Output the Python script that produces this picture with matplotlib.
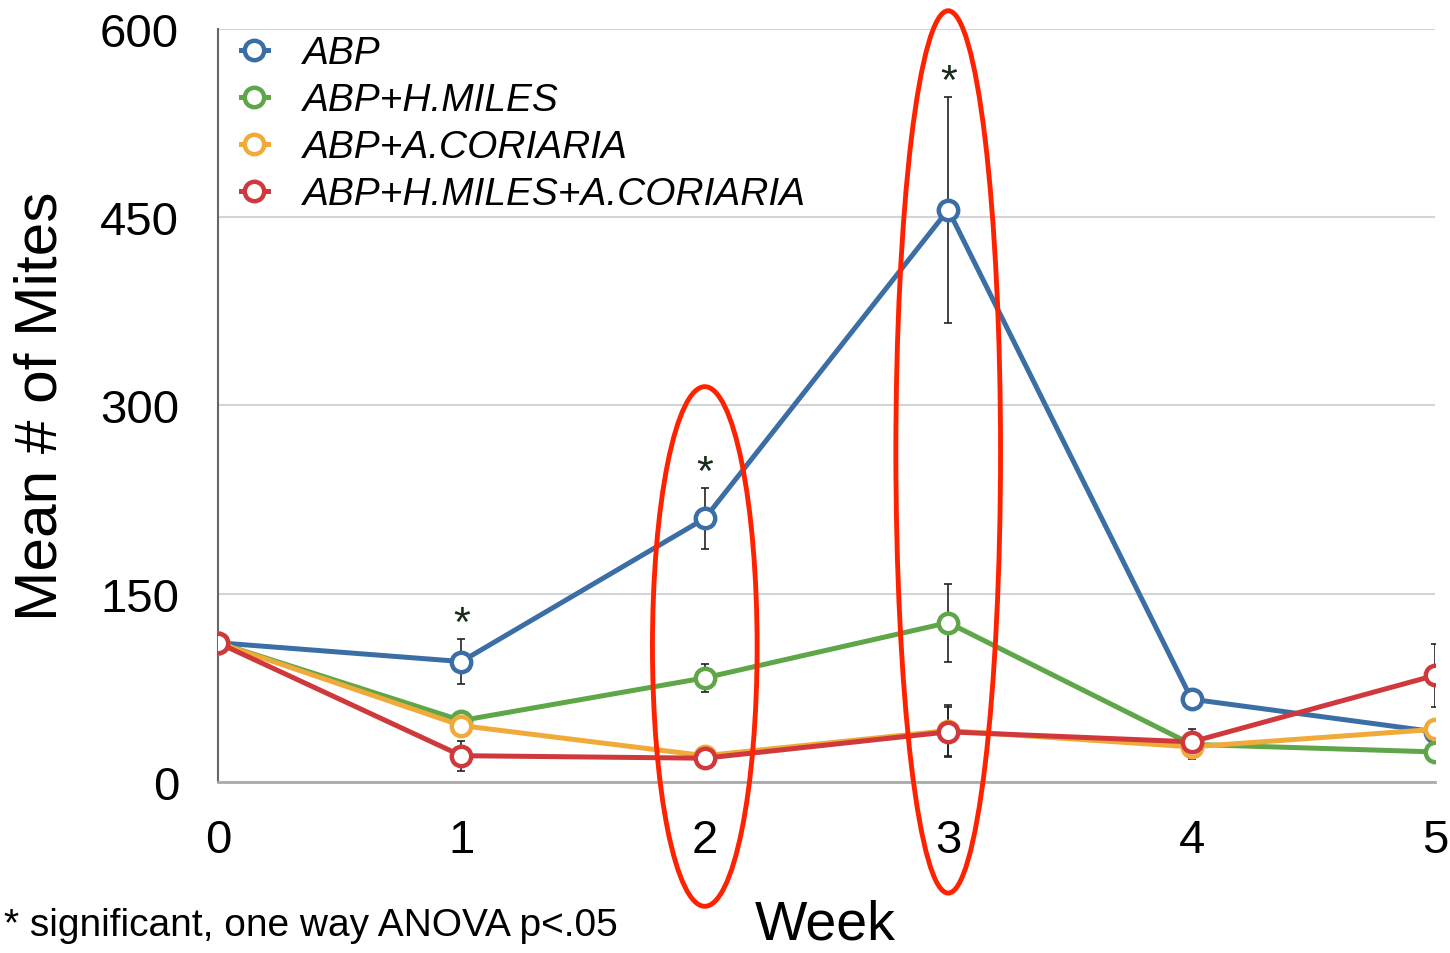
import numpy as np
import matplotlib.pyplot as plt
from matplotlib.patches import Ellipse

# Dados
weeks = [0, 1, 2, 3, 4, 5]
series_names = ['ABP', 'ABP+H.MILES', 'ABP+A.CORIARIA', 'ABP+H.MILES+A.CORIARIA']
abp = [111, 96, 210, 456, 66, 40]
abp_err = [3, 18, 24, 90, 5, 5]
hmiles = [111, 49, 83, 127, 30, 24]
hmiles_err = [3, 7, 11, 31, 12, 5]
acoriaria = [111, 45, 21, 41, 28, 42]
acoriaria_err = [3, 8, 6, 20, 5, 5]
combo = [111, 21, 19, 40, 32, 85]
combo_err = [3, 12, 5, 20, 5, 25]
colors = ['#3c6ea6', '#5ea648', '#f0aa3a', '#d0393c']
yticks = [0, 150, 300, 450, 600]
signif_weeks = [1, 2, 3]

plt.rcParams['font.family'] = ['Liberation Sans', 'DejaVu Sans']

fig = plt.figure(figsize=(14.5, 9.54), dpi=100)
ax = fig.add_axes([0.1503, 0.1792, 0.8394, 0.7894])

all_series = [abp, hmiles, acoriaria, combo]
all_err = [abp_err, hmiles_err, acoriaria_err, combo_err]
for vals, errs, c, name in zip(all_series, all_err, colors, series_names):
    ax.errorbar(weeks, vals, yerr=errs, fmt='none', ecolor='#222222',
                elinewidth=1.2, capsize=3, capthick=1.2, zorder=2)
    ax.plot(weeks, vals, color=c, lw=3.6, marker='o', ms=14, mfc='white',
            mec=c, mew=3.2, label=name, zorder=3)

# asteriscos de significância
for w in signif_weeks:
    top = abp[w] + abp_err[w]
    ax.annotate('*', (w, top), xytext=(0, 3), textcoords='offset points',
                ha='center', va='baseline', fontsize=31, color='#1a2a1a')

# elipses vermelhas
ax.add_patch(Ellipse((2, 108), 0.43, 414, fill=False, ec='#ff2200', lw=3.5,
                     clip_on=False, zorder=5))
ax.add_patch(Ellipse((3, 263), 0.43, 703, fill=False, ec='#ff2200', lw=3.5,
                     clip_on=False, zorder=5))

ax.set_xlim(0, 5)
ax.set_ylim(0, 600)
ax.set_xticks(weeks)
ax.set_yticks(yticks)
ax.tick_params(axis='both', length=0, labelsize=34)
ax.tick_params(axis='x', pad=26)
ax.tick_params(axis='y', pad=28)
ax.grid(axis='y', color='#d4d4d4', lw=1.5)
ax.set_axisbelow(True)
for s in ['top', 'right']:
    ax.spines[s].set_visible(False)
ax.spines['left'].set_color('#666666')
ax.spines['left'].set_linewidth(1.5)
ax.spines['bottom'].set_color('#aaaaaa')
ax.spines['bottom'].set_linewidth(2)

ax.set_ylabel('Mean # of Mites', fontsize=43.5, va='center')
ax.yaxis.set_label_coords(-0.145, 0.5)
ax.set_xlabel('Week', fontsize=40, va='center')
ax.xaxis.set_label_coords(0.499, -0.189)

leg = ax.legend(loc='upper left', frameon=False, fontsize=28, handlelength=0.7,
                handletextpad=0.9, labelspacing=0.28, borderaxespad=0.0,
                bbox_to_anchor=(0.006, 1.012))
for t in leg.get_texts():
    t.set_fontstyle('italic')

fig.text(0.003, 0.010, '* significant, one way ANOVA p<.05', fontsize=28,
         ha='left', va='bottom')

plt.savefig('out.png', dpi=100)
